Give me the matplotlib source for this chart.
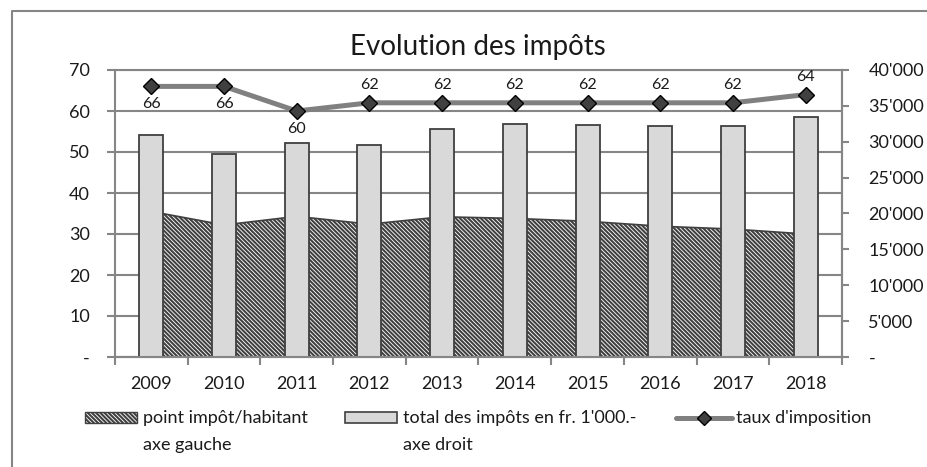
import matplotlib
matplotlib.use("Agg")
import matplotlib.pyplot as plt
from matplotlib.patches import Rectangle
from matplotlib.lines import Line2D
from matplotlib.ticker import FuncFormatter
import numpy as np

# ---- data ----
years = ["2009", "2010", "2011", "2012", "2013", "2014", "2015", "2016", "2017", "2018"]
point_impot = [35.5, 32.2, 34.3, 32.4, 34.2, 33.8, 33.1, 31.9, 31.2, 30.0]          # axe gauche
total_impots = [30940, 28250, 29870, 29500, 31730, 32430, 32330, 32200, 32240, 33400]  # axe droit
taux = [66, 66, 60, 62, 62, 62, 62, 62, 62, 64]

plt.rcParams["font.family"] = ["Lato", "DejaVu Sans"]
plt.rcParams["hatch.linewidth"] = 1.5

GRID = "#868686"
DARK = "#404040"
BAR = "#d9d9d9"
TXT = "#1a1a1a"
HATCH = "\\" * 8

W, H = 928, 467
fig = plt.figure(figsize=(W / 100, H / 100), dpi=100)


def fx(v):
    return v / W


def fy(v):
    return 1 - v / H


x = np.arange(len(years))

# left axis: area + grid
ax = fig.add_axes([fx(115), fy(357), fx(842) - fx(115), fy(70) - fy(357)])
ax.set_xlim(-0.5, len(years) - 0.5)
ax.set_ylim(0, 70)
ax.set_yticks(range(0, 71, 10))
ax.yaxis.set_major_formatter(FuncFormatter(lambda v, p: "-" if v == 0 else f"{v:.0f}"))
ax.yaxis.grid(True, color=GRID, lw=1.5)
ax.set_axisbelow(True)
ax.fill_between(x, point_impot, 0, facecolor="white", edgecolor=DARK,
                hatch=HATCH, lw=1.2, zorder=2)

ax.set_xticks(np.arange(-0.5, len(years), 1))
ax.set_xticklabels([])
ax.set_xticks(x, minor=True)
ax.set_xticklabels(years, minor=True)
ax.tick_params(axis="x", which="major", length=6, color=GRID, width=1.5)
ax.tick_params(axis="x", which="minor", length=0, pad=14, labelsize=13, labelcolor=TXT)
ax.tick_params(axis="y", length=6, color=GRID, width=1.5, pad=12, labelsize=13, labelcolor=TXT)
for s in ax.spines.values():
    s.set_color(GRID)
    s.set_linewidth(1.5)

# right axis: bars
axr = ax.twinx()
axr.bar(x, total_impots, 0.33, color=BAR, edgecolor=DARK, lw=1.3, zorder=2)
axr.set_ylim(0, 40000)
axr.set_yticks(range(0, 40001, 5000))
axr.yaxis.set_major_formatter(FuncFormatter(
    lambda v, p: "-" if v == 0 else f"{v:,.0f}".replace(",", "'")))
axr.tick_params(axis="y", length=5, color=GRID, width=1.5, pad=14, labelsize=13, labelcolor=TXT)
for k, s in axr.spines.items():
    s.set_color(GRID)
    s.set_linewidth(1.5)
    s.set_visible(k in ("right", "bottom"))

# line on the left scale, drawn above the bars
axl = ax.twinx()
axl.set_ylim(0, 70)
axl.axis("off")
axl.plot(x, taux, color="#808080", lw=3.6, marker="D", ms=8.5,
         mfc=DARK, mec="black", mew=1, solid_capstyle="butt")
for i, v in enumerate(taux):
    off = -13 if i < 3 else 12.5
    axl.annotate(str(v), (x[i], v), xytext=(0, off), textcoords="offset points",
                 ha="center", va="center", fontsize=11.5, color=TXT)

# title
fig.text(fx(478), fy(47), "Evolution des impôts", ha="center", va="center",
         fontsize=20, color=TXT)

# legend (manual, Excel-like)
fig.add_artist(Rectangle((fx(85), fy(423)), fx(137) - fx(85), fy(412) - fy(423),
                         transform=fig.transFigure, facecolor="white",
                         edgecolor=DARK, hatch=HATCH, lw=1))
fig.text(fx(143), fy(418), "point impôt/habitant", va="center", fontsize=13, color=TXT)
fig.text(fx(143), fy(445), "axe gauche", va="center", fontsize=13, color=TXT)

fig.add_artist(Rectangle((fx(345), fy(423)), fx(397) - fx(345), fy(412) - fy(423),
                         transform=fig.transFigure, facecolor=BAR,
                         edgecolor=DARK, lw=1.2))
fig.text(fx(403), fy(418), "total des impôts en fr. 1'000.-", va="center", fontsize=13, color=TXT)
fig.text(fx(403), fy(445), "axe droit", va="center", fontsize=13, color=TXT)

fig.add_artist(Line2D([fx(676), fx(732)], [fy(418), fy(418)], transform=fig.transFigure,
                      color="#808080", lw=3.6, solid_capstyle="round"))
fig.add_artist(Line2D([fx(704)], [fy(418)], transform=fig.transFigure, marker="D",
                      ms=7, mfc=DARK, mec="black", mew=1, lw=0))
fig.text(fx(736), fy(418), "taux d'imposition", va="center", fontsize=13, color=TXT)

# chart border (right and bottom edges fall outside the picture)
fig.add_artist(Line2D([fx(12), fx(12), 1.01], [-0.01, fy(11), fy(11)],
                      transform=fig.transFigure, color=GRID, lw=1.5))

fig.savefig("out.png", dpi=100)
